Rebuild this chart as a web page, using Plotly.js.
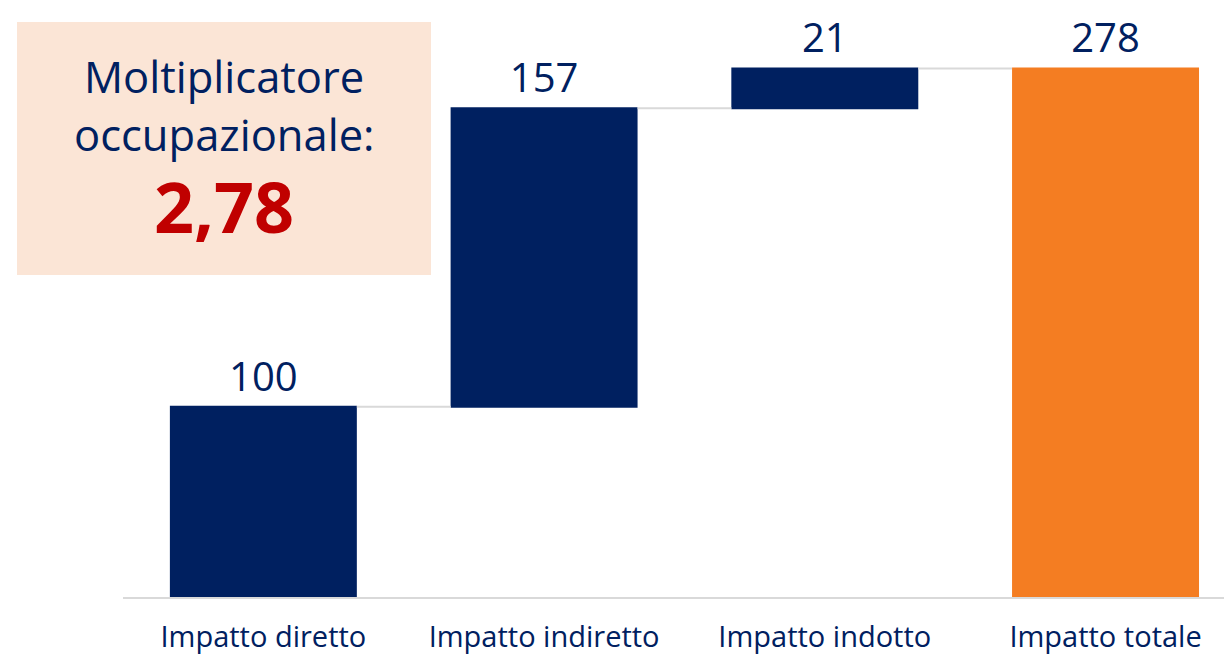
<!DOCTYPE html>
<html>
<head>
<meta charset="utf-8">
<script src="https://cdn.plot.ly/plotly-3.0.1.min.js"></script>
<style>html,body{margin:0;padding:0;background:#fff;}#chart{width:1224px;height:658px;}</style>
</head>
<body>
<div id="chart"></div>
<script>
const categories = ["Impatto diretto", "Impatto indiretto", "Impatto indotto", "Impatto totale"];
const values = [100, 157, 21, 278];
const measures = ["relative", "relative", "relative", "total"];
const boxLines = ["Moltiplicatore", "occupazionale:"];
const multiplier = "2,78";

const NAVY = "#002060";
const FONT = "Open Sans, Noto Sans, sans-serif";

const trace = {
  type: "waterfall",
  x: categories,
  y: values,
  measure: measures,
  text: values.map(v => String(v)),
  textposition: "outside",
  textfont: {family: FONT, size: 40, color: NAVY},
  cliponaxis: false,
  increasing: {marker: {color: NAVY}},
  decreasing: {marker: {color: NAVY}},
  totals: {marker: {color: "#F47D22"}},
  connector: {mode: "between", line: {color: "#D9D9D9", width: 2}},
  hoverinfo: "none"
};

const L = 123, R = 1224, T = 0, B = 597;
const px = x => (x - L) / (R - L);
const py = y => (B - y) / (B - T);

const layout = {
  width: 1224, height: 658,
  margin: {l: L, r: 0, t: 0, b: 658 - B},
  paper_bgcolor: "#fff", plot_bgcolor: "#fff",
  showlegend: false,
  waterfallgap: 0.334,
  font: {family: FONT, color: NAVY},
  xaxis: {
    type: "category",
    range: [-0.5, 3.422],
    showline: true, linecolor: "#D9D9D9", linewidth: 2,
    showgrid: false, zeroline: false, ticks: "",
    ticklabelstandoff: 13,
    tickfont: {family: FONT, size: 29, color: NAVY}
  },
  yaxis: {
    range: [0, 314],
    visible: false, showgrid: false, zeroline: false
  },
  shapes: [{
    type: "rect", xref: "paper", yref: "paper",
    x0: px(17), x1: px(431), y0: py(275), y1: py(22),
    fillcolor: "#FBE5D6", line: {width: 0}, layer: "below"
  }],
  annotations: [
    {xref: "paper", yref: "paper", x: px(224), y: py(76), xanchor: "center", yanchor: "middle",
     text: boxLines[0], showarrow: false, font: {family: FONT, size: 43.5, color: NAVY}},
    {xref: "paper", yref: "paper", x: px(224), y: py(134), xanchor: "center", yanchor: "middle",
     text: boxLines[1], showarrow: false, font: {family: FONT, size: 43.5, color: NAVY}},
    {xref: "paper", yref: "paper", x: px(224), y: py(206), xanchor: "center", yanchor: "middle",
     text: "<b>" + multiplier + "</b>", showarrow: false, font: {family: FONT, size: 70, color: "#C00000"}}
  ]
};

Plotly.newPlot("chart", [trace], layout, {staticPlot: true, displayModeBar: false});
</script>
</body>
</html>
